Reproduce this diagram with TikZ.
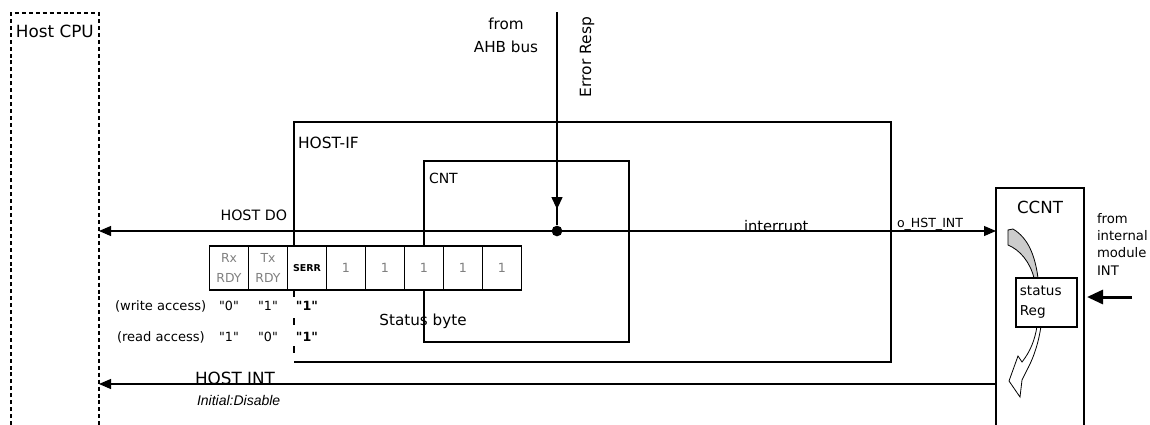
\documentclass[tikz,border=0pt]{standalone}
\usepackage{fontspec}
\setmainfont{DejaVu Sans}
\newfontfamily\arialfont{Liberation Sans}
\usetikzlibrary{arrows.meta}
\definecolor{cellgray}{RGB}{128,128,128}
\definecolor{bandgray}{RGB}{204,204,204}
\newcommand\qq[1]{\textquotedbl#1\textquotedbl}
\begin{document}
\begin{tikzpicture}[x=0.75pt,y=-0.75pt,line width=0.8pt,
  lbl/.style={inner sep=0pt,outer sep=0pt},
  tipA/.style={-{Triangle[length=9pt,width=7.5pt]}},
  tipB/.style={{Triangle[length=9pt,width=7.5pt]}-{Triangle[length=9pt,width=7.5pt]}},
  hostdash/.style={dash pattern=on 3pt off 2.2pt,line width=1.1pt},
  cellbox/.style={draw,fill=white,minimum width=29.25pt,minimum height=33pt,inner sep=0pt,
    align=center,text=cellgray,font=\fontsize{9.3}{15}\selectfont},
  acc/.style={lbl,anchor=base west,font=\fontsize{9.8}{11}\selectfont},
  qv/.style={lbl,anchor=base,font=\fontsize{9.5}{11}\selectfont}]
\useasboundingbox (0,0) rectangle (1150,425);

% Host CPU
\draw[hostdash] (11,425) -- (11,13) -- (99,13) -- (99,425);
\node[lbl,anchor=base west,font=\fontsize{12.6}{15}\selectfont] (hostlbl) at (16,37) {Host CPU};
\coordinate (hcDO) at (99,231);
\coordinate (hcINT) at (99,384);

% HOST-IF frame
\draw (294,246) -- (294,122) -- (891,122) -- (891,362) -- (294,362);
\draw[dash pattern=on 5.5pt off 15.5pt] (294,290) -- (294,362);
\node[lbl,anchor=base west,font=\fontsize{11.6}{14}\selectfont] (hostif) at (298,148) {HOST-IF};

% CNT
\node[draw,minimum width=153.75pt,minimum height=135.75pt,inner sep=0pt] (cnt) at (526.5,251.5) {};
\node[lbl,anchor=base west,font=\fontsize{10.5}{13}\selectfont] (cntlbl) at (429,183) {CNT};

% CCNT
\draw (996,425) -- (996,188) -- (1084,188) -- (1084,425);
\node[lbl,anchor=base,font=\fontsize{12.5}{15}\selectfont] (ccnt) at (1040,213) {CCNT};
\coordinate (ccntDO) at (996,231);
\coordinate (ccntINT) at (996,384);

% AHB input
\coordinate (ahb) at (557,12);
\node[circle,fill,inner sep=0pt,minimum size=8pt] (dot) at (557,231) {};
\draw (ahb) -- (dot);
\draw[-{Triangle[length=9pt,width=8.25pt]}] (ahb) -- ([yshift=12pt]dot.north);
\node[lbl,anchor=north,align=center,font=\fontsize{11.4}{17.25}\selectfont] (ahblbl) at (506,18) {from\\AHB bus};
\begin{scope}
\clip (560,13) rectangle (620,120);
\node[lbl,rotate=90,anchor=base west,font=\fontsize{11.6}{13}\selectfont] (err) at (591,97) {Error Resp};
\end{scope}

% HOST DO line
\draw[tipB] (hcDO) -- (ccntDO);
\node[lbl,anchor=base east,font=\fontsize{10.7}{13}\selectfont] (hostdo) at (287,220) {HOST DO};
\begin{scope}
\clip (700,200) rectangle (850,230.4);
\node[lbl,anchor=base west,font=\fontsize{11}{13}\selectfont] (intr) at (744,231) {interrupt};
\end{scope}
\node[lbl,anchor=base west,font=\fontsize{9.4}{11}\selectfont] (ohst) at (897,227) {o\_HST\_INT};

% status byte cells
\node[cellbox] (c1) at (229,268) {Rx\\RDY};
\node[cellbox] (c2) at (268,268) {Tx\\RDY};
\node[cellbox,text=black,font=\bfseries\fontsize{7.1}{9}\selectfont] (c3) at (307,268) {SERR};
\node[cellbox,font=\fontsize{9.5}{11}\selectfont] (c4) at (346,268) {1};
\node[cellbox,font=\fontsize{9.5}{11}\selectfont] (c5) at (385,268) {1};
\node[cellbox,font=\fontsize{9.5}{11}\selectfont] (c6) at (424,268) {1};
\node[cellbox,font=\fontsize{9.5}{11}\selectfont] (c7) at (463,268) {1};
\node[cellbox,font=\fontsize{9.5}{11}\selectfont] (c8) at (502,268) {1};

\node[lbl,anchor=base,font=\fontsize{11.4}{13}\selectfont] (sb) at (423,325) {Status byte};

\node[acc] (wa) at (115,310) {(write access)};
\node[acc] (ra) at (117,341.5) {(read access)};
\node[qv] (w1) at (229,310) {\qq{0}};
\node[qv] (w2) at (268,310) {\qq{1}};
\node[qv] (w3) at (307,310) {\textbf{\qq{1}}};
\node[qv] (r1) at (229,341.5) {\qq{1}};
\node[qv] (r2) at (268,341.5) {\qq{0}};
\node[qv] (r3) at (307,341.5) {\textbf{\qq{1}}};

% HOST INT line
\draw[tipA] (ccntINT) -- (hcINT);
\begin{scope}
\clip (150,350) rectangle (300,383.3);
\node[lbl,anchor=base west,font=\fontsize{12.6}{15}\selectfont] (hostint) at (195,384) {HOST INT};
\end{scope}
\node[lbl,anchor=base west,font=\arialfont\itshape\fontsize{10.5}{12}\selectfont] (initd) at (197,405) {Initial:Disable};

% CCNT internals
\filldraw[fill=bandgray,line width=0.6pt] (1008,245) -- (1008,230) -- (1013,229)
  .. controls (1028,238) and (1035,255) .. (1038,278) -- (1034,278)
  .. controls (1030,262) and (1020,250) .. (1008,245) -- cycle;
\filldraw[fill=white,line width=0.6pt] (1037,326) .. controls (1035,340) and (1030,352) .. (1022,362)
  -- (1018,356) -- (1009,381) -- (1020,397) -- (1022,380) -- (1027,370)
  .. controls (1035,355) and (1039,340) .. (1041,326);
\node[draw,fill=white,minimum width=45.75pt,minimum height=36.75pt,inner sep=0pt,
  text width=40pt,align=left,font=\fontsize{10.2}{15}\selectfont] (sreg) at (1046.5,302.5) {status\\Reg};

\node[lbl,anchor=north west,align=left,font=\fontsize{9.9}{13.1}\selectfont] (fim) at (1097,213) {from\\internal\\module\\INT};
\coordinate (intsrc) at (1132,297);
\coordinate (inttgt) at (1087,297);
\draw[line width=2.25pt,-{Triangle[length=12pt,width=10.5pt]}] (intsrc) -- (inttgt);
\end{tikzpicture}
\end{document}
